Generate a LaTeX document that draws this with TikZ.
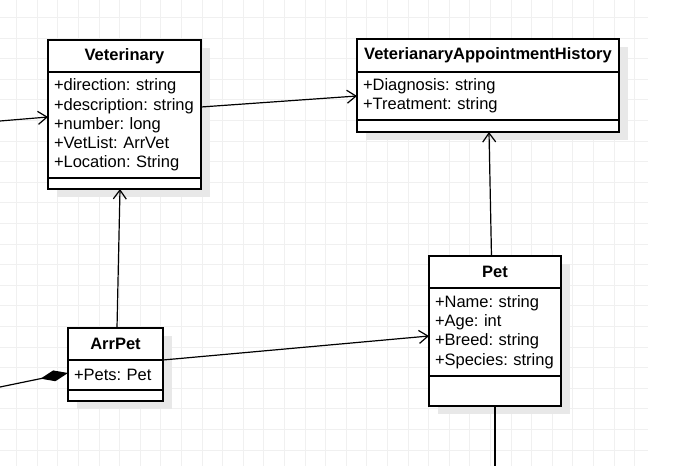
\documentclass[tikz,border=0pt]{standalone}
\usepackage{fontspec}
\setmainfont{Liberation Sans}
\usetikzlibrary{positioning,arrows.meta,backgrounds}
\definecolor{gridgray}{RGB}{240,240,240}
\definecolor{shadowgray}{RGB}{232,232,232}
\frenchspacing

\begin{document}
\begin{tikzpicture}[x=1pt, y=-1pt, line width=1.2pt, >={Straight Barb[length=9pt,width=13pt]},
  every node/.style={font=\fontsize{16.5}{19.2}\selectfont},
  classhead/.style={draw, fill=white, font=\fontsize{16.5}{19.2}\selectfont\bfseries, inner sep=0pt, outer sep=0pt, anchor=north west},
  classattr/.style={draw, fill=white, align=left, inner xsep=6pt, inner ysep=0pt, outer sep=0pt, below=0pt of #1},
  classfoot/.style={draw, fill=white, inner sep=0pt, outer sep=0pt, below=0pt of #1},
  gridline/.style={gridgray, line width=0.8pt},
  comp/.style={-{Diamond[length=28pt,width=11pt]}}]
\useasboundingbox (0,0) rectangle (681,466);
% box Veterinary
\node[classhead, minimum width=153pt, minimum height=32pt] (vethead) at (48,40) {Veterinary};
\node[classattr=vethead, text width=141pt, minimum height=106pt] (vetattr) {+direction: string\\+description: string\\+number: long\\+VetList: ArrVet\\+Location: String};
\node[classfoot=vetattr, minimum width=153pt, minimum height=11pt] (vetfoot) {};
% box VeterianaryAppointmentHistory
\node[classhead, minimum width=262pt, minimum height=33pt] (vahhead) at (357,39) {VeterianaryAppointmentHistory};
\node[classattr=vahhead, text width=250pt, minimum height=48pt] (vahattr) {+Diagnosis: string\\+Treatment: string};
\node[classfoot=vahattr, minimum width=262pt, minimum height=12pt] (vahfoot) {};
% box ArrPet
\node[classhead, minimum width=95pt, minimum height=32pt] (arrhead) at (68,328) {ArrPet};
\node[classattr=arrhead, text width=83pt, minimum height=30pt] (arrattr) {+Pets: Pet};
\node[classfoot=arrattr, minimum width=95pt, minimum height=11pt] (arrfoot) {};
% box Pet
\node[classhead, minimum width=132pt, minimum height=32pt] (pethead) at (429,256) {Pet};
\node[classattr=pethead, text width=120pt, minimum height=88pt] (petattr) {+Name: string\\+Age: int\\+Breed: string\\+Species: string};
\node[classfoot=petattr, minimum width=132pt, minimum height=30pt] (petfoot) {};
%% grid and shadows
\begin{scope}[on background layer]
\foreach \k in {0,...,30} \draw[gridline] (16.5+20.6*\k,0) -- (16.5+20.6*\k,466);
\foreach \k in {0,...,21} \draw[gridline] (0,17.3+20.6*\k) -- (648,17.3+20.6*\k);
\foreach \a/\b in {vethead/vetfoot, vahhead/vahfoot, arrhead/arrfoot, pethead/petfoot}
  \fill[shadowgray] ([shift={(9pt,-8pt)}]\a.north west) rectangle ([shift={(9pt,-8pt)}]\b.south east);
\end{scope}
%% connectors
\coordinate (vetin) at (0,121) ;
\coordinate (arrin) at (0,387) ;
\coordinate (petout) at (494,466) ;
\draw [->] (vetin) -- ([yshift=8pt]vetattr.west);
\draw [->] ([yshift=18pt]vetattr.east) -- (vahattr.west);
\draw [->] ([xshift=1.5pt]arrhead.north) -- ([xshift=-4.5pt]vetfoot.south);
\draw [->] (arrhead.south east) -- ([yshift=-4pt]petattr.west);
\draw [->] ([xshift=-3.5pt]pethead.north) -- ([xshift=1pt]vahfoot.south);
\draw (petfoot.south) -- (petfoot.south |- petout);
\draw [comp] (arrin) -- ([yshift=2pt]arrattr.west);
\end{tikzpicture}
\end{document}
